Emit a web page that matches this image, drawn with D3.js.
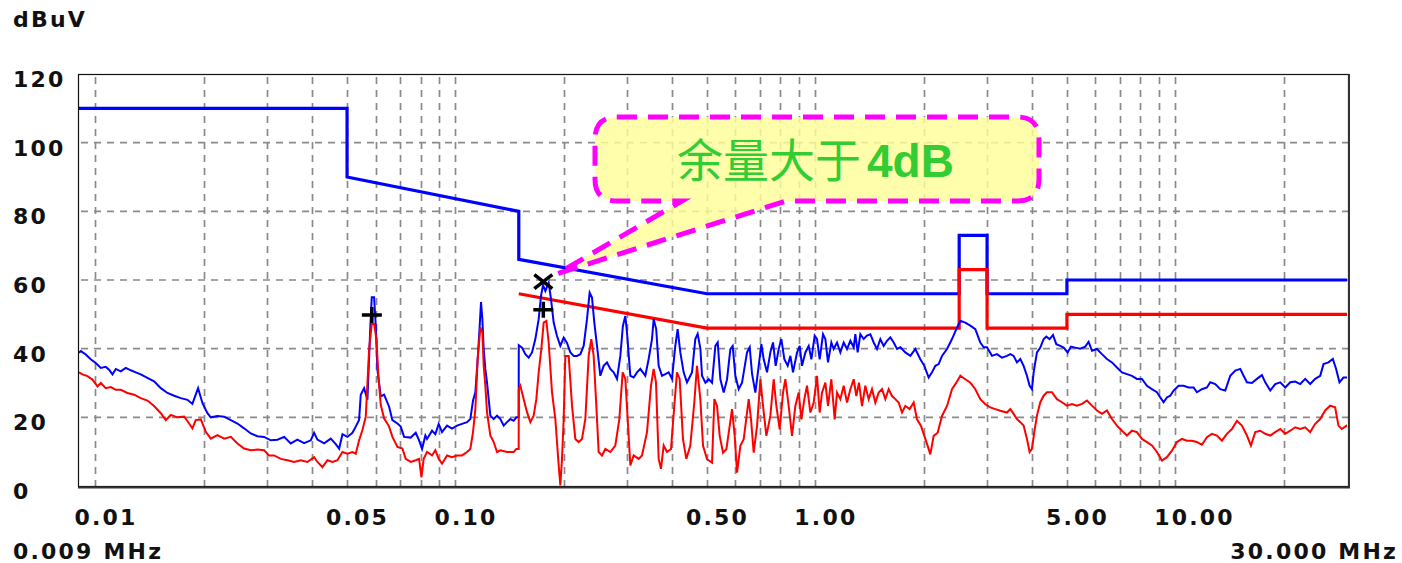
<!DOCTYPE html>
<html><head><meta charset="utf-8">
<script src="https://cdn.jsdelivr.net/npm/d3@7"></script>
<style>html,body{margin:0;padding:0;background:#fff;} svg{display:block}</style>
</head><body>
<svg id="c" width="1402" height="563"></svg>
<script>
// ---- data ----
const xTickValues = [0.01, 0.05, 0.1, 0.5, 1, 5, 10];
const xTickLabels = ["0.01", "0.05", "0.10", "0.50", "1.00", "5.00", "10.00"];
const yTickValues = [0, 20, 40, 60, 80, 100, 120];
const yGridValues = [20, 40, 60, 80, 100];

// QP limit (blue) and AV limit (red), MHz / dBuV
const qpLimit = [[0.009,110],[0.05,110],[0.05,90],[0.15,80],[0.15,66],[0.5,56],[2.51,56],[2.51,73],[3.0,73],[3.0,56],[5,56],[5,60],[30,60]];
const avLimit = [[0.15,56],[0.5,46],[2.51,46],[2.51,63],[3.0,63],[3.0,46],[5,46],[5,50],[30,50]];

// peak trace (blue)
const peakTrace = [[0.009,38.8],[0.00911,39.3],[0.0094,38.3],[0.0097,36.9],[0.01,35.9],[0.01035,34.4],[0.01068,34.7],[0.01091,33.9],[0.01115,32.5],[0.01139,34.1],[0.01176,33.4],[0.01214,34.4],[0.01254,33.7],[0.01294,33.1],[0.01336,32.5],[0.01394,31.5],[0.01455,30.5],[0.01519,28.5],[0.01585,27.1],[0.01654,26.3],[0.01726,25.6],[0.01801,25.1],[0.01859,23.9],[0.01899,26.6],[0.01928,28.5],[0.01983,24.1],[0.02047,21.2],[0.02091,20],[0.02182,20.4],[0.02278,20.2],[0.02377,19.2],[0.0248,18.2],[0.02588,16.8],[0.02701,15.3],[0.02818,14.5],[0.02941,14.3],[0.03069,13.3],[0.03203,13.5],[0.03344,14.3],[0.03488,12.4],[0.0364,13.5],[0.03798,12.5],[0.03964,13.3],[0.0405,15.5],[0.04137,13.5],[0.04318,12.4],[0.04505,13.8],[0.04652,12.2],[0.04753,10.9],[0.04855,15.1],[0.05012,14.3],[0.05175,15.5],[0.05286,17.3],[0.054,19.2],[0.05458,26.6],[0.05576,28.5],[0.05696,25.1],[0.05794,44.7],[0.05856,55.0],[0.05944,55],[0.06008,46.7],[0.06072,33.9],[0.06203,26.1],[0.06337,26.6],[0.06543,23.1],[0.06683,19.2],[0.06902,18.2],[0.07049,17.3],[0.07201,14.3],[0.07515,14.1],[0.07759,15.5],[0.07927,13.3],
[0.0808,10.8],[0.08252,14.7],[0.0834,13.7],[0.08611,16.1],[0.08797,15.1],[0.08986,18.1],[0.0918,15.7],[0.09479,17.6],[0.09786,16.7],[0.10104,17.6],[0.10433,18.1],[0.10772,18.6],[0.11003,19.5],[0.11193,24.9],[0.11362,27.3],[0.11532,37],[0.11681,46.6],[0.1178,53.6],[0.11882,48.6],[0.11984,39.9],[0.12111,34.1],[0.12241,30.2],[0.12373,25.3],[0.12505,20.5],[0.12774,19.5],[0.13051,20.5],[0.13332,19.5],[0.13618,17.6],[0.13912,18.6],[0.1421,19.5],[0.14518,19],[0.14768,20],[0.1499,20],[0.15,41],[0.15313,40.3],[0.15644,38.4],[0.15981,37.4],[0.16325,38.9],[0.16676,42.8],[0.17036,48.6],[0.17292,55.4],[0.17515,58.5],[0.17778,56.8],[0.18161,59.2],[0.18434,54.4],[0.18751,47.6],[0.19154,43.7],[0.19567,40.8],[0.1999,43.2],[0.2042,41.7],[0.2086,38.9],[0.21309,37.9],[0.21768,37.9],[0.22239,38.4],[0.22717,40.8],[0.23206,48.6],[0.23606,56.3],[0.23962,54.9],[0.2432,47.6],[0.24741,40.8],[0.25273,32.1],[0.25817,35],[0.26373,36],[0.26941,34.1],[0.27524,33.1],[0.28117,31.2],[0.28722,37.9],[0.29195,46.6],[0.29656,49.5],[0.29972,44.7],[0.30621,32.1],[0.3128,31.6],[0.31954,33.1],[0.32642,34.1],[0.33703,32.1],[0.34429,37],[0.35171,42.8],[0.35548,48.6],[0.36132,45.7],[0.36704,35],[0.37494,32.1],[0.38302,32.6],[0.39126,33.1],[0.39969,31.2],[0.40827,40.8],[0.41445,45.7],[0.42157,38.9],[0.43068,33.1],[0.43994,30.2],[0.45428,33.1],[0.46405,42.8],[0.47102,44.3],[0.4793,40],
[0.48443,32.1],[0.49488,30.1],[0.50552,31.1],[0.51645,30.1],[0.52757,40.8],[0.53549,41.8],[0.54468,31.1],[0.55647,27.2],[0.56845,31.1],[0.58067,39.9],[0.58939,40.8],[0.59951,32.1],[0.6125,28.2],[0.62568,30.1],[0.646,38.9],[0.65712,40.4],[0.66704,32.7],[0.68137,27.2],[0.69609,35],[0.70807,41.3],[0.71871,36.9],[0.73414,33.1],[0.74996,38.9],[0.76285,41.8],[0.77599,35],[0.79099,39.9],[0.8046,42.8],[0.82023,36.9],[0.83791,35],[0.85234,37.9],[0.867,33.1],[0.88948,38.9],[0.90477,40.8],[0.91834,35],[0.93818,38.9],[0.95841,40.8],[0.97494,36.9],[0.99589,43.8],[1.01084,42.8],[1.02819,36.9],[1.05034,44.2],[1.0662,42.8],[1.08451,36],[1.10785,41.8],[1.12453,39.9],[1.14874,41.8],[1.17347,38.9],[1.19887,41.8],[1.22466,39.9],[1.25102,42.3],[1.27796,40.4],[1.29171,44.2],[1.31113,38.9],[1.3337,44.2],[1.36241,42.8],[1.39174,43.8],[1.42194,44.2],[1.45237,41.8],[1.48377,39.9],[1.51569,42.8],[1.5483,40.8],[1.58164,42.3],[1.61572,43.3],[1.65066,41.8],[1.68623,39.9],[1.72251,40.4],[1.7785,38.9],[1.83639,37.9],[1.89611,39.9],[1.9576,36.9],[2.00827,35],[2.06478,31.6],[2.10926,33.1],[2.15479,35],[2.20123,35.5],[2.24864,37.9],[2.32178,39.9],[2.39703,42.8],[2.46432,45.7],[2.52826,48.1],[2.60993,47.6],[2.69539,46.7],[2.78301,45.7],[2.87345,41.8],[2.93538,40.4],[2.99836,40.4],[3.09575,37.9],[3.19602,38.4],[3.29979,37.4],[3.40686,37.9],
[3.481,38.4],[3.556,37.9],[3.632,36],[3.711,37],[3.79,35],[3.872,32.1],[3.939,29.2],[3.998,28.2],[4.041,33.1],[4.128,38.9],[4.217,40.3],[4.308,42.8],[4.382,43.5],[4.476,42.8],[4.573,44],[4.672,41.3],[4.792,40.8],[4.896,40.3],[5.023,38.9],[5.131,40.6],[5.275,40.3],[5.446,40],[5.623,40.6],[5.744,42],[5.869,39.4],[6.059,39.9],[6.256,38.4],[6.459,37],[6.669,36],[6.886,34.5],[7.11,33.1],[7.341,32.6],[7.579,32.1],[7.825,31.2],[8.08,31.2],[8.342,29.2],[8.613,28.2],[8.893,27.3],[9.085,25.8],[9.28,24.4],[9.48,25.8],[9.685,26.3],[9.894,27.8],[10.216,29.2],[10.547,29.2],[10.89,28.7],[11.244,28.7],[11.486,27.3],[11.859,28.2],[12.245,28.7],[12.509,30.2],[12.916,29.7],[13.336,28.2],[13.769,27.8],[14.216,32.1],[14.678,33.6],[15.155,34.1],[15.482,32.1],[15.815,30.2],[16.329,30],[16.861,31.2],[17.407,32.3],[17.781,30.2],[18.36,27.8],[18.953,29.7],[19.573,30.2],[20.21,28.7],[20.867,30.2],[21.544,30.4],[22.242,29.7],[22.963,31.2],[23.708,29.7],[24.473,31.2],[25.274,32.1],[25.813,35.5],[26.647,36],[27.397,37],[27.985,34.1],[28.586,30.2],[29.326,31.6],[30,31.6]];

// average trace (red)
const avgTrace = [[0.009,33.1],[0.0092,32.5],[0.0095,32],[0.00981,31],[0.01013,29],[0.01035,30],[0.01068,28.5],[0.01103,28.8],[0.01139,28],[0.01176,28],[0.01227,27.1],[0.01281,26.6],[0.01336,25.6],[0.01394,24.9],[0.01455,23.3],[0.01519,21.2],[0.01568,19.2],[0.01619,20.7],[0.0169,20],[0.01764,20.2],[0.01821,18.2],[0.01859,16.8],[0.01899,19.2],[0.01962,19.4],[0.02026,15.8],[0.02091,13.8],[0.02182,14.8],[0.02278,13.8],[0.02377,14.3],[0.0248,12.4],[0.02588,10.9],[0.02701,10.4],[0.02818,10.6],[0.02941,10.4],[0.03037,8.9],[0.03135,8.9],[0.03272,7.9],[0.03414,7.5],[0.03564,7],[0.03719,7.5],[0.0388,7],[0.0405,8.4],[0.04137,7],[0.04272,5.5],[0.04411,7.5],[0.04554,7],[0.04702,7.5],[0.04855,9.9],[0.05012,9.4],[0.05175,9.9],[0.05286,9.4],[0.054,13.3],[0.05517,16.3],[0.05636,20.2],[0.05758,39.8],[0.05856,47.2],[0.05944,47.2],[0.06034,42.7],[0.06111,32],[0.06203,23.6],[0.06337,19.7],[0.06543,17.3],[0.06683,14.3],[0.06902,11.4],[0.07125,10.9],[0.07278,7.9],[0.07515,7],[0.07759,7.5],[0.07927,7.9],[0.08047,2.5],
[0.08164,7.9],[0.0834,9.9],[0.08611,8.9],[0.08797,10.4],[0.08986,7.9],[0.0918,6.5],[0.09479,8.9],[0.09786,8.4],[0.10104,8.9],[0.10433,8.9],[0.10772,9.9],[0.11003,10.8],[0.11193,15.7],[0.11362,22.4],[0.11532,37],[0.11731,46.2],[0.11882,44.7],[0.11984,35],[0.12111,29.2],[0.12241,21.5],[0.12505,14.7],[0.12774,12.8],[0.13051,9.9],[0.13332,10.4],[0.13912,9.9],[0.14518,9.9],[0.14768,10.8],[0.1499,10.8],[0.15,28.2],[0.15151,29.2],[0.15477,25.3],[0.1581,21.5],[0.16153,18.6],[0.165,20.5],[0.16783,25.3],[0.17036,33.1],[0.17329,39.9],[0.1759,47.6],[0.17893,48.1],[0.18161,41.8],[0.18552,27.3],[0.18953,19.5],[0.19361,6],[0.19567,0.2],[0.19778,7.9],[0.1999,19.5],[0.20203,37.9],[0.20639,37.9],[0.21085,23.4],[0.21539,13.7],[0.22002,12.8],[0.22476,13.7],[0.2296,19.5],[0.23457,37.9],[0.23859,42.8],[0.24217,37.9],[0.24634,23.4],[0.25005,9.9],[0.25542,8.9],[0.26095,10.8],[0.26941,9.9],[0.27817,11.8],[0.28539,19.5],[0.29153,33.1],[0.29656,31.2],[0.30102,19.5],[0.30621,6],[0.3128,8.9],[0.32297,7.9],[0.32993,8.9],[0.34066,15.7],[0.34946,29.2],[0.35548,34.1],[0.36082,30.2],[0.36704,7.9],[0.37256,5],[0.37898,11.8],[0.38714,9.9],[0.39718,10.8],[0.40573,23.4],[0.41267,33.1],[0.4198,31.2],[0.42882,13.7],[0.43804,7.9],[0.44944,11.8],[0.46108,24.4],[0.46904,35],[0.47913,25.3],
[0.48754,11.7],[0.5002,7.8],[0.51645,6.8],[0.52421,25.3],[0.53322,23.3],[0.54237,14.6],[0.55407,9.7],[0.56605,10.7],[0.57823,17.5],[0.5869,22.4],[0.59697,14.6],[0.60598,3.9],[0.61906,11.7],[0.63239,13.6],[0.646,21.4],[0.65295,25.3],[0.66277,19.4],[0.67418,9.7],[0.6887,17.5],[0.70356,31.1],[0.71569,23.3],[0.73108,14.6],[0.74996,20.4],[0.76611,31.1],[0.77929,23.3],[0.79607,16.5],[0.81323,27.2],[0.8255,31.1],[0.84328,23.3],[0.86149,14.6],[0.88004,23.3],[0.89902,27.2],[0.9145,19.4],[0.93219,25.3],[0.9482,29.2],[0.96871,21.4],[0.98956,24.3],[1.01084,32.1],[1.02819,21.4],[1.04363,27.2],[1.0662,30.1],[1.08451,23.3],[1.10785,31.1],[1.13172,19.4],[1.14874,27.2],[1.17347,25.3],[1.19887,29.2],[1.22466,24.3],[1.25102,28.2],[1.27796,31.1],[1.3,26.2],[1.32229,30.1],[1.34794,23.3],[1.37693,29.2],[1.40675,25.3],[1.43704,28.2],[1.46795,24.3],[1.49959,27.2],[1.53184,28.2],[1.56501,25.3],[1.59861,28.2],[1.63307,26.2],[1.66825,25.3],[1.70429,24.3],[1.74101,21.4],[1.7785,23.3],[1.8285,22.4],[1.87593,24.3],[1.91634,19.4],[1.96594,17.5],[2.00827,14.6],[2.0514,11.7],[2.08687,9.2],[2.13193,14.6],[2.18709,15.5],[2.24864,20.4],[2.32178,23.3],[2.39703,28.2],[2.46432,30.1],[2.52826,32.1],[2.60993,31.1],[2.69539,30.1],[2.78301,28.2],[2.87345,25.3],[2.96677,23.8],[3.06287,22.9],[3.16218,22.4],[3.2647,21.9],[3.40686,21.4],
[3.481,22.4],[3.556,21],[3.632,19.5],[3.711,18.6],[3.79,17.6],[3.872,13.7],[3.939,9.9],[3.998,10.8],[4.058,15.7],[4.128,20.5],[4.217,24.4],[4.308,26.3],[4.401,27.3],[4.544,27.3],[4.691,25.3],[4.844,24.4],[5.001,23.4],[5.165,23.9],[5.331,23.4],[5.505,23.9],[5.684,24.9],[5.869,23.4],[6.059,22],[6.256,21],[6.459,22],[6.669,19.5],[6.886,17.6],[7.11,16.1],[7.341,14.7],[7.579,16.1],[7.825,15.7],[8.08,13.7],[8.342,12.8],[8.613,11.8],[8.893,9.9],[9.183,7.4],[9.48,8.4],[9.789,10.3],[10.107,12.8],[10.436,13.7],[10.775,13.2],[11.124,13.2],[11.486,12.8],[11.859,12],[12.245,14.2],[12.643,15.2],[13.053,14.7],[13.478,13.2],[13.916,15.2],[14.369,16.6],[14.836,19],[15.317,17.6],[15.815,14.7],[16.225,11.8],[16.681,15.7],[17.224,16.1],[17.781,15.2],[18.36,14.7],[18.953,15.7],[19.573,16.6],[20.21,15.2],[20.867,16.1],[21.544,17.1],[22.242,16.6],[22.963,17.1],[23.708,15.7],[24.473,18.1],[25.274,19.5],[26.089,22],[26.934,23.4],[27.806,22.9],[28.403,17.6],[29.014,16.6],[29.956,17.6],[30,17.6]];

// final measurement markers
const qpMarkers = [[0.0586, 49.8], [0.1755, 51.3]];
const peakMarkers = [[0.1755, 59.5]];
const calloutText = "余量大于";
const calloutValue = "4dB";

// ---- drawing ----
const svg = d3.select("#c");
svg.append("rect").attr("width",1402).attr("height",563).attr("fill","#fff");
const x = d3.scaleLog().domain([0.009, 30]).range([79, 1347]);
const y = d3.scaleLinear().domain([0, 120]).range([486, 74]);
const L = 78, R = 1349, T = 74, B = 486;

// grid
const gridX = x.ticks().filter(v => v > 0.0095 && v < 29);
const grid = svg.append("g").attr("stroke", "#8a8a8a").attr("stroke-width", 1.7).attr("stroke-dasharray", "7,6");
grid.selectAll("line.v").data(gridX).join("line").attr("class","v")
  .attr("x1", d => Math.round(x(d)) + 0.5).attr("x2", d => Math.round(x(d)) + 0.5)
  .attr("y1", T + 3).attr("y2", B);
grid.selectAll("line.h").data(yGridValues).join("line").attr("class","h")
  .attr("x1", L + 3).attr("x2", R).attr("y1", d => y(d)).attr("y2", d => y(d));

const line = d3.line().x(d => x(d[0])).y(d => y(d[1]));

// limits
svg.append("path").attr("d", line(qpLimit)).attr("fill","none").attr("stroke","#0000ff").attr("stroke-width",3.2).attr("stroke-linejoin","miter");
svg.append("path").attr("d", line(avLimit)).attr("fill","none").attr("stroke","#ff0000").attr("stroke-width",3.2).attr("stroke-linejoin","miter");

// traces
svg.append("path").attr("d", line(peakTrace)).attr("fill","none").attr("stroke","#0000ff").attr("stroke-width",2);
svg.append("path").attr("d", line(avgTrace)).attr("fill","none").attr("stroke","#ff0000").attr("stroke-width",2);

// frame
svg.append("rect").attr("x", L + 0.5).attr("y", T + 0.5).attr("width", R - L - 1).attr("height", B - T).attr("fill","none").attr("stroke","#111").attr("stroke-width",1.2);
svg.append("path").attr("d", `M${L},${B + 1.5}H${R}V${T}`).attr("fill","none").attr("stroke","#333").attr("stroke-width",2);

// markers
svg.selectAll("path.qp").data(qpMarkers).join("path").attr("class","qp")
  .attr("transform", d => `translate(${x(d[0])},${y(d[1])})`)
  .attr("d","M-10,0H10M0,-8V8").attr("stroke","#000").attr("stroke-width",3.5).attr("fill","none");
svg.selectAll("path.pk").data(peakMarkers).join("path").attr("class","pk")
  .attr("transform", d => `translate(${x(d[0])},${y(d[1])})`)
  .attr("d","M-9,-7L9,7M-9,7L9,-7").attr("stroke","#000").attr("stroke-width",3.5).attr("fill","none");

// text
const tf = {"font-family":"'DejaVu Sans', sans-serif","font-weight":"bold","font-size":"22px","letter-spacing":"2.2px","fill":"#111"};
function styl(sel){ for (const k in tf) sel.attr(k, tf[k]); return sel; }
styl(svg.append("text").attr("x",13).attr("y",27).text("dBuV"));
styl(svg.selectAll("text.yt").data(yTickValues).join("text").attr("class","yt")
  .attr("x",13).attr("y", d => y(d) + 13).text(d => d));
styl(svg.selectAll("text.xt").data(xTickValues).join("text").attr("class","xt")
  .attr("x", d => x(d) - 21).attr("y", 525).text((d,i) => xTickLabels[i]));
styl(svg.append("text").attr("x",13).attr("y",559).text(x.domain()[0].toFixed(3) + " MHz"));
styl(svg.append("text").attr("x",1398).attr("y",559).attr("text-anchor","end").text(x.domain()[1].toFixed(3) + " MHz"));

// callout
const pk = peakMarkers[0];
const tipX = x(pk[0]) + 14, tipY = y(pk[1]) - 8;
const bx0 = 595, bx1 = 1039, by0 = 117, by1 = 201, r = 22;
const p = `M${bx0+r},${by0}H${bx1-r}Q${bx1},${by0} ${bx1},${by0+r}V${by1-r}Q${bx1},${by1} ${bx1-r},${by1}H786L${tipX},${tipY}L682,${by1}H${bx0+r}Q${bx0},${by1} ${bx0},${by1-r}V${by0+r}Q${bx0},${by0} ${bx0+r},${by0}Z`;
svg.append("path").attr("d", p).attr("fill","#ffff99").attr("fill-opacity",0.82)
  .attr("stroke","#ff00ff").attr("stroke-width",5).attr("stroke-dasharray","20,11");
const ct = svg.append("text").attr("x",677).attr("y",177).attr("fill","#33cc33");
ct.append("tspan").attr("font-family","'Noto Sans CJK SC', sans-serif").attr("font-size","46px").text(calloutText);
ct.append("tspan").attr("dx",6).attr("font-family","'Liberation Sans', Arial, sans-serif").attr("font-weight","bold").attr("font-size","46px").text(calloutValue);
</script>
</body></html>
